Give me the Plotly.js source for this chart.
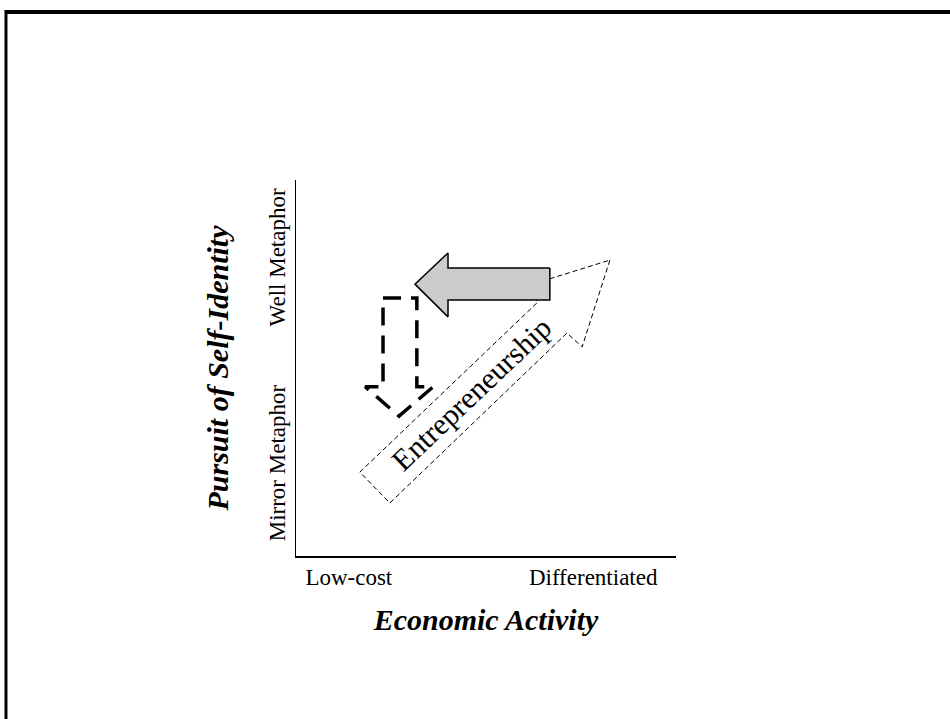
<!DOCTYPE html>
<html><head><meta charset="utf-8">
<script src="https://cdn.plot.ly/plotly-3.0.1.min.js"></script>
<style>html,body{margin:0;padding:0;background:#fff}#chart{width:950px;height:719px}</style>
</head><body><div id="chart"></div>
<script>
// Axis categories (conceptual positions on a 0-10 scale)
const xTickVals = [1.39, 7.82];
const xTickText = ['Low-cost', 'Differentiated'];
const yTickVals = [7.85, 2.38];
const yTickText = ['Well Metaphor', 'Mirror Metaphor'];

// Grey block arrow (shift toward low-cost, well metaphor)
const shiftX = [6.68, 4.0, 4.0, 3.13, 4.0, 4.0, 6.68, 6.68];
const shiftY = [7.66, 7.66, 8.06, 7.23, 6.36, 6.81, 6.81, 7.66];

// Thin dashed "Entrepreneurship" arrow
const entreX = [8.26, 7.53, 7.13, 2.47, 1.68, 6.37, 5.97, 8.26];
const entreY = [7.87, 5.56, 5.93, 1.41, 2.23, 6.76, 7.15, 7.87];

// Bold dashed downward arrow
const dropX = [2.29, 3.18, 3.18, 3.61, 2.71, 1.82, 2.29, 2.29];
const dropY = [6.86, 6.86, 4.50, 4.50, 3.72, 4.50, 4.50, 6.86];

const entreLabel = {text: 'Entrepreneurship', x: 4.62, y: 4.32, angle: -43.5};

const serif = 'Liberation Serif, Times New Roman, serif';

const traces = [
  {x: entreX, y: entreY, mode: 'lines', fill: 'toself', fillcolor: 'rgba(255,255,255,0)',
   line: {color: '#000', width: 1, dash: '5px,3px'}, hoverinfo: 'skip', showlegend: false},
  {x: dropX, y: dropY, mode: 'lines',
   line: {color: '#000', width: 3.5, dash: '18px,10px'}, hoverinfo: 'skip', showlegend: false},
  {x: shiftX, y: shiftY, mode: 'lines', fill: 'toself', fillcolor: '#cbcbcb',
   line: {color: '#000', width: 1.5}, hoverinfo: 'skip', showlegend: false}
];

const layout = {
  width: 950, height: 719,
  margin: {l: 296, r: 274, t: 180, b: 163},
  paper_bgcolor: '#fff', plot_bgcolor: '#fff',
  showlegend: false,
  xaxis: {
    range: [0, 10], showgrid: false, zeroline: false, showline: true,
    linecolor: '#000', linewidth: 1.5, ticks: '', fixedrange: true,
    tickvals: xTickVals, ticktext: xTickText,
    tickfont: {family: serif, size: 23, color: '#000'},
    title: {text: '<b><i>Economic Activity</i></b>', standoff: 20,
            font: {family: serif, size: 30, color: '#000'}}
  },
  yaxis: {
    range: [0, 10], showgrid: false, zeroline: false, showline: true,
    linecolor: '#000', linewidth: 1.5, ticks: '', fixedrange: true,
    tickvals: yTickVals, ticktext: yTickText, tickangle: -90,
    tickfont: {family: serif, size: 23, color: '#000'},
    title: {text: '<b><i>Pursuit of Self-Identity</i></b>', standoff: 28,
            font: {family: serif, size: 30, color: '#000'}}
  },
  annotations: [
    {x: entreLabel.x, y: entreLabel.y, xref: 'x', yref: 'y', text: entreLabel.text,
     textangle: entreLabel.angle, showarrow: false,
     font: {family: serif, size: 30, color: '#000'}}
  ],
  shapes: [
    {type: 'line', xref: 'paper', yref: 'paper', x0: -0.766, x1: 1.73, y0: 1.4468, y1: 1.4468,
     line: {color: '#000', width: 4}},
    {type: 'line', xref: 'paper', yref: 'paper', x0: -0.7632, x1: -0.7632, y0: 1.452, y1: -0.44,
     line: {color: '#000', width: 3}}
  ]
};

Plotly.newPlot('chart', traces, layout, {displayModeBar: false, staticPlot: true});
</script>
</body></html>
